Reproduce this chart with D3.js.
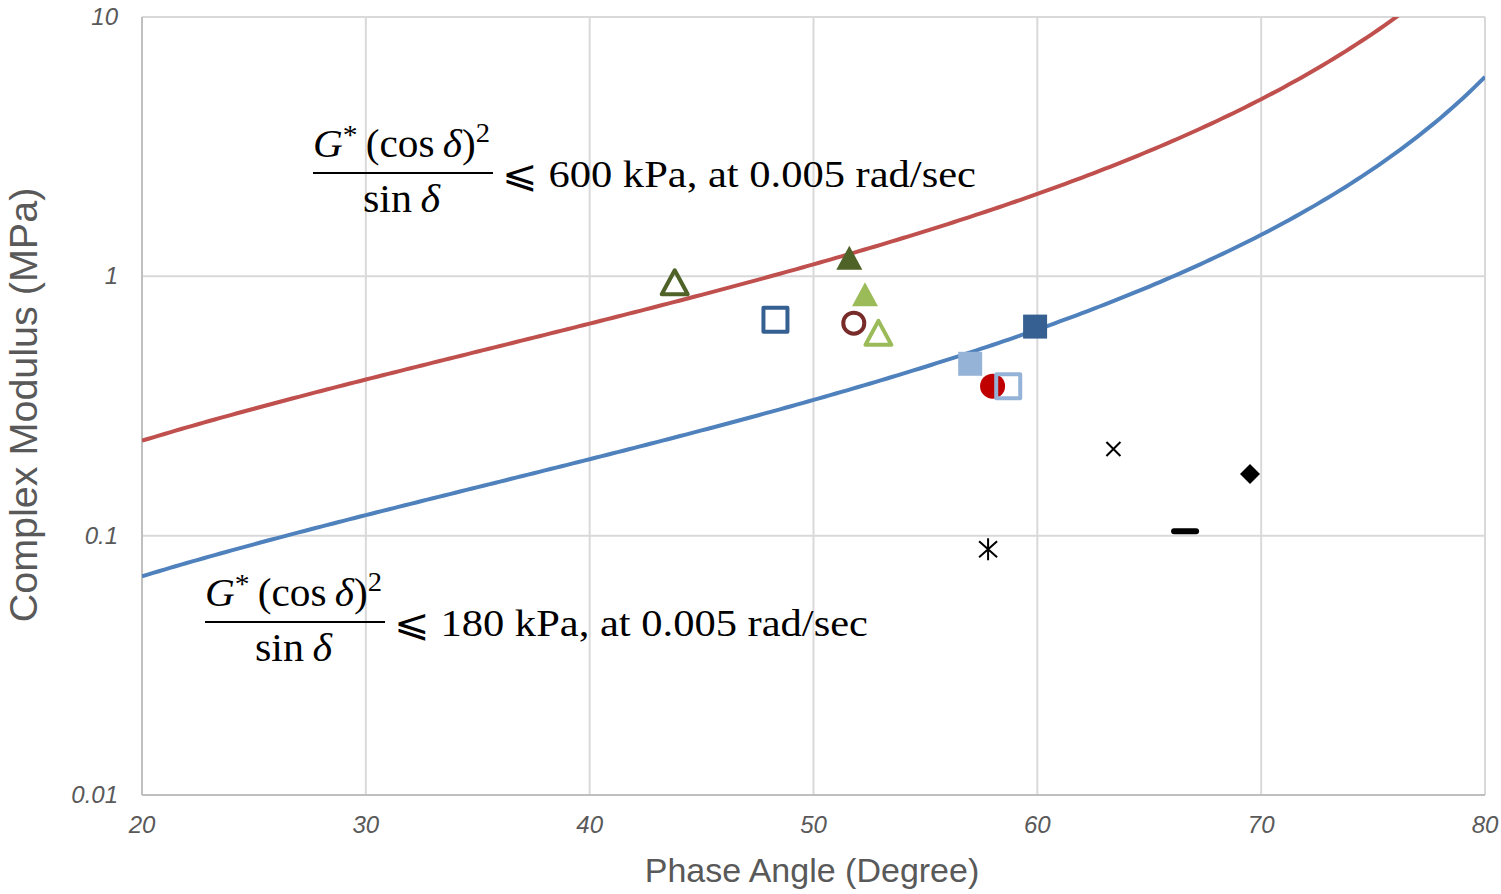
<!DOCTYPE html>
<html>
<head>
<meta charset="utf-8">
<script src="https://cdn.jsdelivr.net/npm/d3@7"></script>
<style>
  html, body { margin: 0; padding: 0; background: #fff; }
  svg { display: block; }
</style>
</head>
<body>
<svg id="chart" width="1501" height="894"></svg>
<script>
// Phase angle (degrees) and complex modulus G* (MPa) of each binder sample
const sampleIds   = ["S1", "S2", "S3", "S4", "S5", "S6", "S7", "S8", "S9", "S10", "S11", "S12", "S13", "S14"];
const phaseAngle  = [43.8, 51.6, 52.3, 52.9, 51.8, 48.3, 59.9, 57.0, 58.0, 58.7, 63.4, 69.5, 66.6, 57.8];
const modulus     = [0.94, 1.17, 0.845, 0.60, 0.66, 0.68, 0.64, 0.46, 0.377, 0.377, 0.216, 0.173, 0.104, 0.0887];

// Glover–Rowe style limits: G*(cos δ)^2 / sin δ ≤ limit (kPa)
const limitValues = [600, 180];
const limitColors = ["#C0504D", "#4F81BD"];

// Axis ticks
const xTicks = [20, 30, 40, 50, 60, 70, 80];
const yTicks = [0.01, 0.1, 1, 10];
const yTickLabels = ["0.01", "0.1", "1", "10"];

// Marker styles per sample (shape, fill, stroke)
const markerStyles = [
  { shape: "triangle", fill: "none",    stroke: "#4F6228" },
  { shape: "triangle", fill: "#4F6228", stroke: "none" },
  { shape: "triangle", fill: "#9BBB59", stroke: "none" },
  { shape: "triangle", fill: "none",    stroke: "#9BBB59" },
  { shape: "circle",   fill: "none",    stroke: "#772C2A" },
  { shape: "square",   fill: "none",    stroke: "#366092" },
  { shape: "square",   fill: "#366092", stroke: "none" },
  { shape: "square",   fill: "#95B3D7", stroke: "none" },
  { shape: "circle",   fill: "#C00000", stroke: "none" },
  { shape: "square",   fill: "none",    stroke: "#95B3D7" },
  { shape: "cross",    fill: "none",    stroke: "#000" },
  { shape: "diamond",  fill: "#000",    stroke: "none" },
  { shape: "dash",     fill: "#000",    stroke: "none" },
  { shape: "star",     fill: "none",    stroke: "#000" }
];

const svg = d3.select("#chart");
const plot = { left: 142, right: 1485, top: 17, bottom: 795 };

const x = d3.scaleLinear().domain([20, 80]).range([plot.left, plot.right]);
const y = d3.scaleLog().domain([0.01, 10]).range([plot.bottom, plot.top]);

// Gridlines
const grid = svg.append("g");
grid.selectAll("line.v").data(xTicks.slice(1)).join("line")
  .attr("x1", d => x(d)).attr("x2", d => x(d))
  .attr("y1", plot.top).attr("y2", plot.bottom)
  .attr("stroke", "#D9D9D9").attr("stroke-width", 2);
grid.selectAll("line.h").data(yTicks.slice(1)).join("line")
  .attr("x1", plot.left).attr("x2", plot.right)
  .attr("y1", d => y(d)).attr("y2", d => y(d))
  .attr("stroke", "#D9D9D9").attr("stroke-width", 2);

// Axes lines
svg.append("line").attr("x1", plot.left).attr("x2", plot.left)
  .attr("y1", plot.top).attr("y2", plot.bottom)
  .attr("stroke", "#BFBFBF").attr("stroke-width", 2);
svg.append("line").attr("x1", plot.left).attr("x2", plot.right)
  .attr("y1", plot.bottom).attr("y2", plot.bottom)
  .attr("stroke", "#BFBFBF").attr("stroke-width", 2);

// Tick labels
const tickFont = "'Liberation Sans', Arial, sans-serif";
svg.append("g").selectAll("text").data(xTicks).join("text")
  .attr("x", d => x(d)).attr("y", 833)
  .attr("text-anchor", "middle")
  .attr("font-family", tickFont).attr("font-style", "italic")
  .attr("font-size", 24).attr("fill", "#595959")
  .text(d => d);
svg.append("g").selectAll("text").data(yTicks).join("text")
  .attr("x", 118).attr("y", d => y(d) + 8)
  .attr("text-anchor", "end")
  .attr("font-family", tickFont).attr("font-style", "italic")
  .attr("font-size", 24).attr("fill", "#595959")
  .text((d, i) => yTickLabels[i]);

// Axis titles
svg.append("text")
  .attr("x", 812).attr("y", 882)
  .attr("text-anchor", "middle")
  .attr("font-family", tickFont).attr("font-size", 34).attr("fill", "#595959")
  .text("Phase Angle (Degree)");
svg.append("text")
  .attr("transform", "translate(37,405) rotate(-90)")
  .attr("text-anchor", "middle")
  .attr("font-family", tickFont).attr("font-size", 39.5).attr("fill", "#595959")
  .text("Complex Modulus (MPa)");

// Limit curves: G* = limit * sin δ / cos² δ, converted from kPa to MPa
svg.append("clipPath").attr("id", "plotClip")
  .append("rect").attr("x", plot.left).attr("y", plot.top)
  .attr("width", plot.right - plot.left).attr("height", plot.bottom - plot.top);

const deltas = d3.range(20, 80.001, 0.25);
const line = d3.line().x(d => x(d[0])).y(d => y(d[1]));
const rad = Math.PI / 180;
svg.append("g").attr("clip-path", "url(#plotClip)")
  .selectAll("path").data(limitValues).join("path")
  .attr("d", lim => line(deltas.map(dg => {
    const s = Math.sin(dg * rad), c = Math.cos(dg * rad);
    return [dg, (lim / 1000) * s / (c * c)];
  })))
  .attr("fill", "none")
  .attr("stroke", (d, i) => limitColors[i])
  .attr("stroke-width", 4);

// Equation annotations
const mathFont = "'Liberation Serif', 'DejaVu Serif', serif";
function equation(left, lineY, limit) {
  const g = svg.append("g").attr("font-family", mathFont).attr("fill", "#000");
  const num = g.append("text").attr("x", left).attr("y", lineY - 16)
    .attr("font-size", 39)
    .attr("textLength", 177).attr("lengthAdjust", "spacingAndGlyphs");
  num.append("tspan").attr("font-style", "italic").text("G");
  num.append("tspan").attr("font-size", 28).attr("dy", -13).text("*");
  num.append("tspan").attr("dy", 13).text("\u2009(cos\u2009");
  num.append("tspan").attr("font-style", "italic").text("δ");
  num.append("tspan").text(")");
  num.append("tspan").attr("font-size", 27).attr("dy", -15).text("2");
  g.append("line").attr("x1", left).attr("x2", left + 180)
    .attr("y1", lineY).attr("y2", lineY)
    .attr("stroke", "#000").attr("stroke-width", 2);
  const den = g.append("text").attr("x", left + 50).attr("y", lineY + 39)
    .attr("font-size", 39)
    .attr("textLength", 77).attr("lengthAdjust", "spacingAndGlyphs");
  den.append("tspan").text("sin\u2009");
  den.append("tspan").attr("font-style", "italic").text("δ");
  g.append("text").attr("x", left + 189).attr("y", lineY + 14)
    .attr("font-size", 38)
    .attr("textLength", 474).attr("lengthAdjust", "spacingAndGlyphs")
    .text(`⩽ ${limit} kPa, at 0.005 rad/sec`);
}
equation(313, 173, limitValues[0]);
equation(205, 622, limitValues[1]);

// Sample markers
function markerPath(shape) {
  switch (shape) {
    case "triangle": return "M0,-13 L13,11 L-13,11 Z";
    case "square":   return "M-12,-12 H12 V12 H-12 Z";
    case "diamond":  return "M0,-10 L10,0 L0,10 L-10,0 Z";
    case "cross":    return "M-7,-7 L7,7 M-7,7 L7,-7";
    case "star":     return "M0,-11 V11 M-9,-8 L9,8 M-9,8 L9,-8";
    case "dash":     return "M-11,-3 H11 A3,3 0 0 1 11,3 H-11 A3,3 0 0 1 -11,-3 Z";
    default:         return "";
  }
}
const points = phaseAngle.map((p, i) => ({ id: sampleIds[i], p, g: modulus[i], st: markerStyles[i] }));
const marks = svg.append("g").selectAll("g").data(points).join("g")
  .attr("transform", d => `translate(${x(d.p)},${y(d.g)})`);
marks.each(function(d) {
  const m = d3.select(this);
  const filled = d.st.fill !== "none";
  const sw = (d.st.shape === "cross" || d.st.shape === "star") ? 2 : 4;
  if (d.st.shape === "circle") {
    m.append("circle").attr("r", filled ? 12.5 : 10.5)
      .attr("fill", d.st.fill).attr("stroke", d.st.stroke).attr("stroke-width", sw);
  } else {
    m.append("path").attr("d", markerPath(d.st.shape))
      .attr("fill", d.st.fill).attr("stroke", d.st.stroke)
      .attr("stroke-width", sw).attr("stroke-linejoin", "round");
  }
});
</script>
</body>
</html>
